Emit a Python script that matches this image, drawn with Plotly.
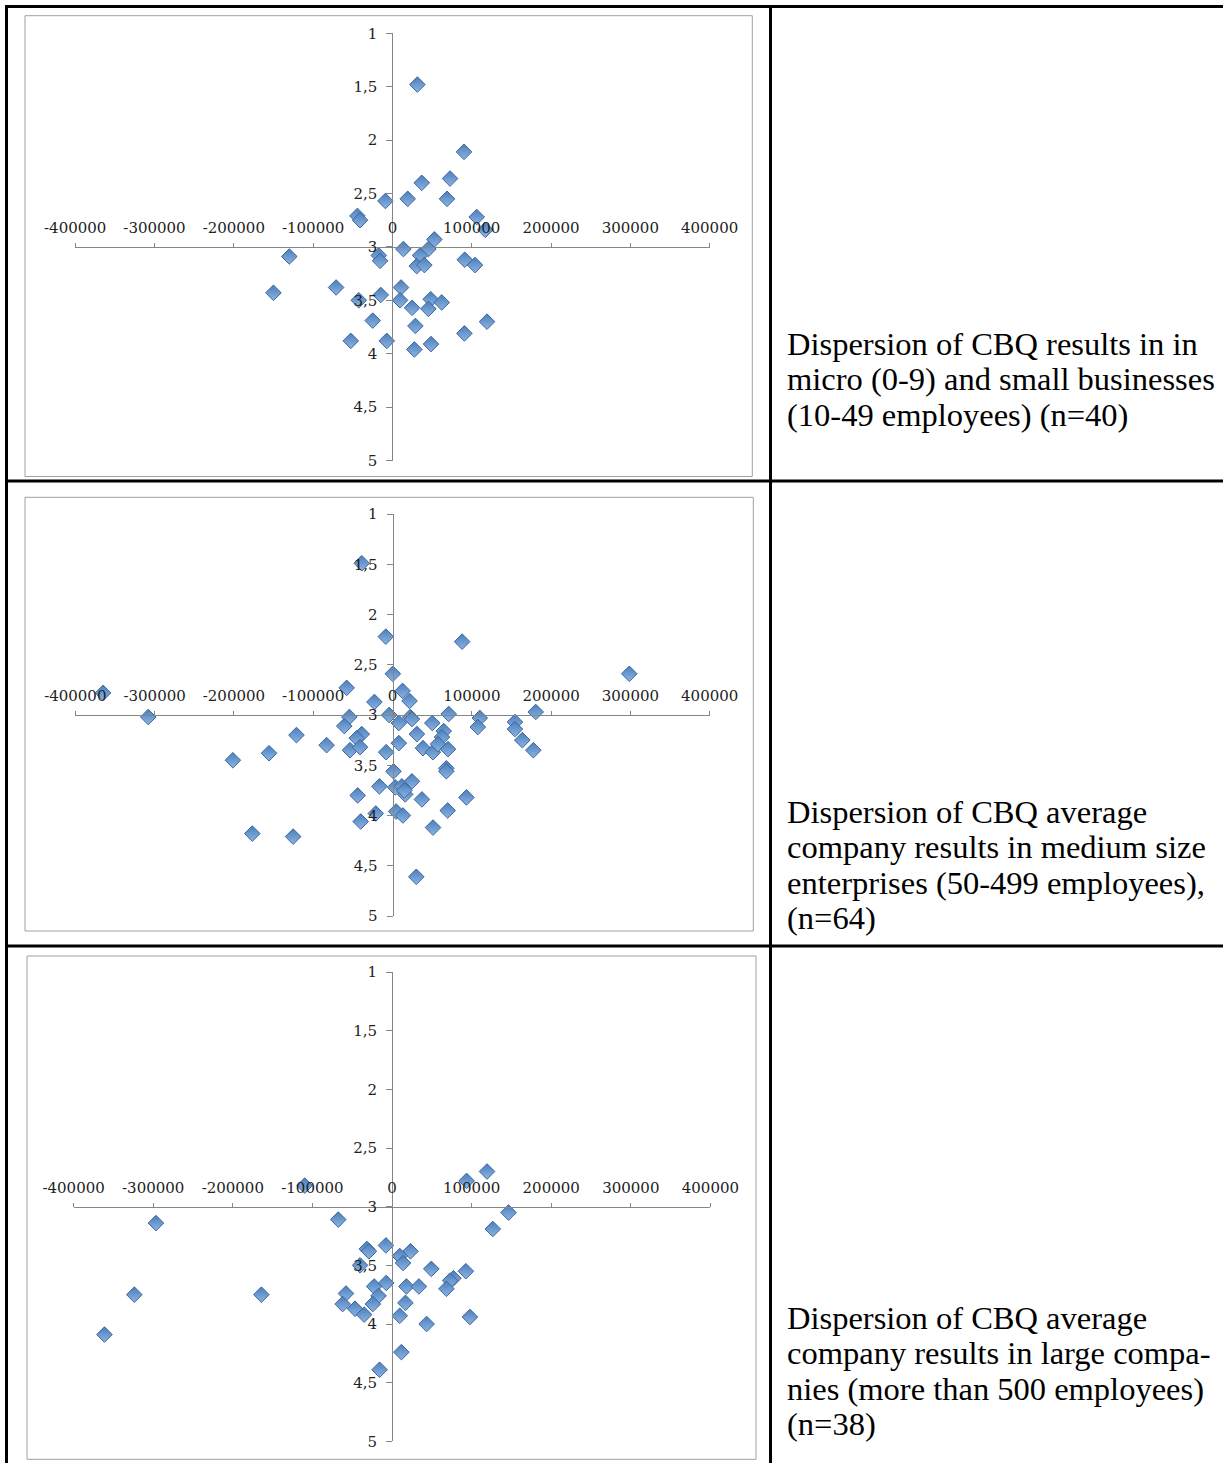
import plotly.graph_objects as go

W, H = 1223, 1463

# ---------------- data ----------------
x_tick_vals = [-400000, -300000, -200000, -100000, 0, 100000, 200000, 300000, 400000]
x_tick_text = ["-400000", "-300000", "-200000", "-100000", "0", "100000", "200000", "300000", "400000"]
y_tick_vals = [1, 1.5, 2, 2.5, 3, 3.5, 4, 4.5, 5]
y_tick_text = ["1", "1,5", "2", "2,5", "3", "3,5", "4", "4,5", "5"]

# micro and small businesses (n=40)
c1_x = [31500, 90300, 37000, 72700, -8800, 19300, 68900, -44100, -40800, 106300,
        117200, 52900, 45400, 13900, 34900, 30700, 40300, -130000, -17200, -15500,
        91200, 104200, -150000, -71000, -14700, 10900, 9700, -42400, 24800, 48300,
        45400, 62200, -24800, 29000, 119300, 90800, -52500, -7100, 27700, 48700]
c1_y = [1.48, 2.11, 2.40, 2.36, 2.57, 2.55, 2.55, 2.71, 2.75, 2.72,
        2.84, 2.93, 3.02, 3.02, 3.08, 3.18, 3.17, 3.09, 3.08, 3.13,
        3.12, 3.17, 3.43, 3.38, 3.45, 3.38, 3.50, 3.50, 3.57, 3.49,
        3.58, 3.52, 3.69, 3.74, 3.70, 3.81, 3.88, 3.88, 3.96, 3.91]

# medium size enterprises (n=64)
c2_x = [-38800, -365000, -308000, 298600,
        -8400, 87800, 400, -57800, 12700, 21500, -22800, -4200, -54400, 22400,
        24500, 8000, 70900, 50200, 110100, 107600, 154400, 154400, 180600, -60800,
        -121100, -38800, -45100, 30800, 64600, 62400,
        -83100, -53600, -40900, -8000, 8000, 38400, 51000, 57400, 70000, 163700,
        177600, -201300, -155700,
        1300, 67900, 67900,
        24500, -16500, 3400, 11800, 16000, 37100, -43900, 93200, 15000,
        -21100, 4600, 13100, 69600, -40100, 51100, -176800, -125300, 30000]
c2_y = [1.49, 2.78, 3.02, 2.59,
        2.22, 2.27, 2.59, 2.73, 2.76, 2.86, 2.87, 3.00, 3.02, 3.02,
        3.04, 3.08, 2.99, 3.08, 3.03, 3.12, 3.07, 3.14, 2.97, 3.11,
        3.20, 3.19, 3.23, 3.19, 3.16, 3.22,
        3.30, 3.35, 3.32, 3.37, 3.28, 3.33, 3.37, 3.29, 3.34, 3.25,
        3.35, 3.45, 3.38,
        3.56, 3.53, 3.56,
        3.66, 3.71, 3.72, 3.71, 3.79, 3.84, 3.80, 3.82, 3.75,
        3.98, 3.96, 4.00, 3.95, 4.06, 4.12, 4.18, 4.21, 4.61]

# large companies (n=38)
c3_x = [-109700, 93700, 119400, 146400, 126600, -67500, -7600, -31600, -29000, 23200,
        9700, 13900, -40100, 49400, 92800, 77200, 73000, 68400, -7200, -22400,
        18100, 33800, -57800, -16900, -62000, -46400, -24100, -35000, 16900, 9700,
        43500, 97900, 11800, -15600, -164100, -296600, -323700, -361200]
c3_y = [2.82, 2.78, 2.70, 3.05, 3.19, 3.11, 3.33, 3.36, 3.38, 3.38,
        3.42, 3.48, 3.50, 3.53, 3.55, 3.61, 3.63, 3.70, 3.65, 3.68,
        3.68, 3.68, 3.74, 3.76, 3.83, 3.87, 3.83, 3.92, 3.82, 3.93,
        4.00, 3.94, 4.24, 4.39, 3.75, 3.14, 3.75, 4.09]

caption1 = ["Dispersion of CBQ results in in",
            "micro (0-9) and small businesses",
            "(10-49 employees) (n=40)"]
caption2 = ["Dispersion of CBQ average",
            "company results in medium size",
            "enterprises (50-499 employees),",
            "(n=64)"]
caption3 = ["Dispersion of CBQ average",
            "company results in large compa-",
            "nies (more than 500 employees)",
            "(n=38)"]

# ---------------- layout geometry (pixels) ----------------
def fx(p):
    return p / W

def fy(p):
    return 1 - p / H

geo = [
    dict(xl=75.2, xr=709.6, yt=33.3, yb=460.5, box=(25, 15.7, 752.3, 476.5)),
    dict(xl=75.3, xr=709.7, yt=514.0, yb=916.0, box=(25, 497.3, 753.3, 931.0)),
    dict(xl=73.6, xr=710.4, yt=972.1, yb=1441.3, box=(27, 956.0, 756.0, 1459.3)),
]
cap_geo = [
    dict(x=785, y0=344, dy=35.3, lines=caption1),
    dict(x=785, y0=812, dy=35.3, lines=caption2),
    dict(x=785, y0=1318, dy=35.3, lines=caption3),
]

series = [(c1_x, c1_y), (c2_x, c2_y), (c3_x, c3_y)]

fig = go.Figure()
layout = {}
shapes = []
annotations = []

axis_col = "#868686"
tick_font = dict(family="DejaVu Serif", size=15, color="#222222")

for i, (xs, ys) in enumerate(series):
    n = "" if i == 0 else str(i + 1)
    g = geo[i]
    fig.add_trace(go.Scatter(
        x=xs, y=ys, mode="markers", xaxis="x" + n, yaxis="y" + n,
        marker=dict(symbol="diamond", size=12, color="#4A7EBB",
                    gradient=dict(type="vertical", color="#8DB4E3"),
                    line=dict(color="#3C679C", width=1)),
        showlegend=False, hoverinfo="skip", cliponaxis=False))
    y3 = g["yt"] + (g["yb"] - g["yt"]) * 0.5
    x0 = (g["xl"] + g["xr"]) / 2
    layout["xaxis" + n] = dict(
        domain=[fx(g["xl"]), fx(g["xr"])], range=[-400000, 400000],
        anchor="free", position=fy(y3), side="top", automargin=False,
        showline=True, linecolor=axis_col, linewidth=1,
        ticks="outside", ticklen=4, tickcolor=axis_col, tickwidth=1,
        ticklabelstandoff=4,
        tickmode="array", tickvals=x_tick_vals, ticktext=x_tick_text,
        tickfont=tick_font, showgrid=False, zeroline=False, fixedrange=True)
    layout["yaxis" + n] = dict(
        domain=[fy(g["yb"]), fy(g["yt"])], range=[5, 1],
        anchor="free", position=fx(x0), side="left", automargin=False,
        showline=True, linecolor=axis_col, linewidth=1,
        ticks="outside", ticklen=6, tickcolor=axis_col, tickwidth=1,
        ticklabelstandoff=6,
        tickmode="array", tickvals=y_tick_vals, ticktext=y_tick_text,
        tickfont=tick_font, showgrid=False, zeroline=False, fixedrange=True)
    bx0, by0, bx1, by1 = g["box"]
    shapes.append(dict(type="rect", xref="paper", yref="paper",
                       x0=fx(bx0), x1=fx(bx1), y0=fy(by1), y1=fy(by0),
                       line=dict(color="#A0A0A0", width=1), layer="below"))

for c in cap_geo:
    for k, line in enumerate(c["lines"]):
        annotations.append(dict(
            text=line, xref="paper", yref="paper", x=fx(c["x"]),
            y=fy(c["y0"] + k * c["dy"]), xanchor="left", yanchor="middle",
            showarrow=False, font=dict(family="Liberation Serif", size=32.5, color="#000000")))

# table borders
black = dict(color="#000000", width=3)
def hline(y, x0=5, x1=1223):
    shapes.append(dict(type="line", xref="paper", yref="paper",
                       x0=fx(x0), x1=fx(x1), y0=fy(y), y1=fy(y), line=black))
def vline(x, y0=5, y1=1463):
    shapes.append(dict(type="line", xref="paper", yref="paper",
                       x0=fx(x), x1=fx(x), y0=fy(y0), y1=fy(y1), line=black))

hline(6.5)
hline(481)
hline(946)
vline(6.5)
vline(770.5)

fig.update_layout(
    width=W, height=H, autosize=False,
    margin=dict(l=0, r=0, t=0, b=0, pad=0, autoexpand=False),
    paper_bgcolor="white", plot_bgcolor="rgba(0,0,0,0)",
    shapes=shapes, annotations=annotations, showlegend=False, **layout)

fig.write_html("out.html", config={"displayModeBar": False},
               post_script="document.body.style.margin='0px';")
